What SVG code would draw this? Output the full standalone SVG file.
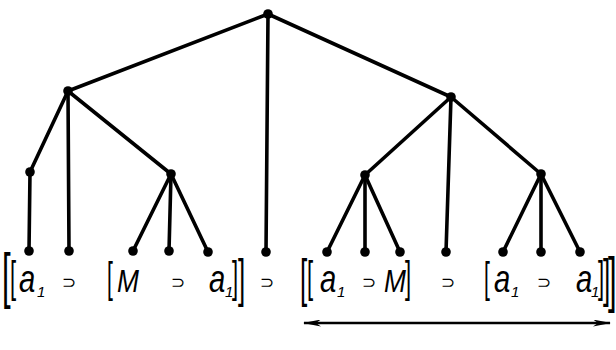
<svg xmlns="http://www.w3.org/2000/svg" width="616" height="350" viewBox="0 0 616 350">
<style>
.e{stroke:#000;stroke-width:3.6;stroke-linecap:round;fill:none}
.n{fill:#000}
.t{font-family:"Liberation Sans",Arial,sans-serif;font-style:italic;fill:#000}
.a{font-size:39px}
.m{font-size:31px}
.s{font-size:15px}
.o{font-family:"DejaVu Sans",sans-serif;font-size:17px;fill:#000}
.b{font-family:"Liberation Sans",Arial,sans-serif;fill:#000}
</style>
<defs>
<marker id="ah" viewBox="0 0 18 7" refX="17" refY="3.5" markerWidth="18" markerHeight="7" markerUnits="userSpaceOnUse" orient="auto-start-reverse">
<path d="M0,0 L18,3.5 L0,7 L5,3.5 Z" fill="#000"/>
</marker>
</defs>
<rect width="616" height="350" fill="#fff"/>
<g id="connectors">
<line class="e" x1="268" y1="14" x2="68" y2="91"/>
<line class="e" x1="268" y1="14" x2="266" y2="252"/>
<line class="e" x1="268" y1="14" x2="451" y2="97"/>
<line class="e" x1="68" y1="91" x2="30" y2="172"/>
<line class="e" x1="68" y1="91" x2="69" y2="251"/>
<line class="e" x1="68" y1="91" x2="171" y2="174"/>
<line class="e" x1="30" y1="172" x2="29" y2="251"/>
<line class="e" x1="171" y1="174" x2="133" y2="251"/>
<line class="e" x1="171" y1="174" x2="169" y2="251"/>
<line class="e" x1="171" y1="174" x2="208" y2="252"/>
<line class="e" x1="451" y1="97" x2="365" y2="175"/>
<line class="e" x1="451" y1="97" x2="446" y2="252"/>
<line class="e" x1="451" y1="97" x2="541" y2="174"/>
<line class="e" x1="365" y1="175" x2="327" y2="252"/>
<line class="e" x1="365" y1="175" x2="365" y2="252"/>
<line class="e" x1="365" y1="175" x2="400" y2="252"/>
<line class="e" x1="541" y1="174" x2="503" y2="252"/>
<line class="e" x1="541" y1="174" x2="541" y2="252"/>
<line class="e" x1="541" y1="174" x2="580" y2="252"/>
<line x1="304" y1="323" x2="610" y2="323" stroke="#000" stroke-width="2.4" marker-start="url(#ah)" marker-end="url(#ah)"/>
</g>
<g id="root"><circle class="n" cx="268" cy="14" r="4.8"/></g>
<g id="n-left"><circle class="n" cx="68" cy="91" r="4.8"/></g>
<g id="n-right"><circle class="n" cx="451" cy="97" r="4.8"/></g>
<g id="n-l1"><circle class="n" cx="30" cy="172" r="4.8"/></g>
<g id="n-l3"><circle class="n" cx="171" cy="174" r="4.8"/></g>
<g id="n-r1"><circle class="n" cx="365" cy="175" r="4.8"/></g>
<g id="n-r3"><circle class="n" cx="541" cy="174" r="4.8"/></g>
<g id="leaf1"><circle class="n" cx="29" cy="251" r="4.8"/></g>
<g id="leaf2"><circle class="n" cx="69" cy="251" r="4.8"/></g>
<g id="leaf3"><circle class="n" cx="133" cy="251" r="4.8"/></g>
<g id="leaf4"><circle class="n" cx="169" cy="251" r="4.8"/></g>
<g id="leaf5"><circle class="n" cx="208" cy="252" r="4.8"/></g>
<g id="leaf6"><circle class="n" cx="266" cy="252" r="4.8"/></g>
<g id="leaf7"><circle class="n" cx="327" cy="252" r="4.8"/></g>
<g id="leaf8"><circle class="n" cx="365" cy="252" r="4.8"/></g>
<g id="leaf9"><circle class="n" cx="400" cy="252" r="4.8"/></g>
<g id="leaf10"><circle class="n" cx="446" cy="252" r="4.8"/></g>
<g id="leaf11"><circle class="n" cx="503" cy="252" r="4.8"/></g>
<g id="leaf12"><circle class="n" cx="541" cy="252" r="4.8"/></g>
<g id="leaf13"><circle class="n" cx="580" cy="252" r="4.8"/></g>
<g id="formula">
<text class="b" font-size="62" transform="translate(2,296) scale(0.5,1)">[</text>
<text class="b" font-size="44" transform="translate(10,292) scale(0.5,1)">[</text>
<text class="t a" transform="translate(19,292) scale(0.75,1)">a</text><text class="t s" x="37" y="297">1</text>
<text class="o" x="62" y="288">⊃</text>
<text class="b" font-size="42" transform="translate(107,292) scale(0.5,1)">[</text>
<text class="t m" transform="translate(117,292) scale(0.85,1)">M</text>
<text class="o" x="171" y="288">⊃</text>
<text class="t a" transform="translate(209,292) scale(0.75,1)">a</text><text class="t s" x="225" y="297">1</text>
<text class="b" font-size="44" transform="translate(232,292) scale(0.5,1)">]</text>
<text class="b" font-size="52" transform="translate(238,296) scale(0.5,1)">]</text>
<text class="o" x="260" y="288">⊃</text>
<text class="b" font-size="52" transform="translate(300,296) scale(0.5,1)">[</text>
<text class="b" font-size="44" transform="translate(307,292) scale(0.5,1)">[</text>
<text class="t a" transform="translate(320,292) scale(0.75,1)">a</text><text class="t s" x="337" y="297">1</text>
<text class="o" x="362" y="288">⊃</text>
<text class="t m" transform="translate(384,292) scale(0.85,1)">M</text>
<text class="b" font-size="44" transform="translate(405,292) scale(0.5,1)">]</text>
<text class="o" x="441" y="288">⊃</text>
<text class="b" font-size="42" transform="translate(484,292) scale(0.5,1)">[</text>
<text class="t a" transform="translate(494,292) scale(0.75,1)">a</text><text class="t s" x="511" y="297">1</text>
<text class="o" x="537" y="288">⊃</text>
<text class="t a" transform="translate(576,292) scale(0.75,1)">a</text><text class="t s" x="591" y="297">1</text>
<text class="b" font-size="44" transform="translate(598,292) scale(0.5,1)">]</text>
<text class="b" font-size="52" transform="translate(603,296) scale(0.5,1)">]</text>
<text class="b" font-size="62" transform="translate(608,300) scale(0.5,1)">]</text>
</g>
</svg>
